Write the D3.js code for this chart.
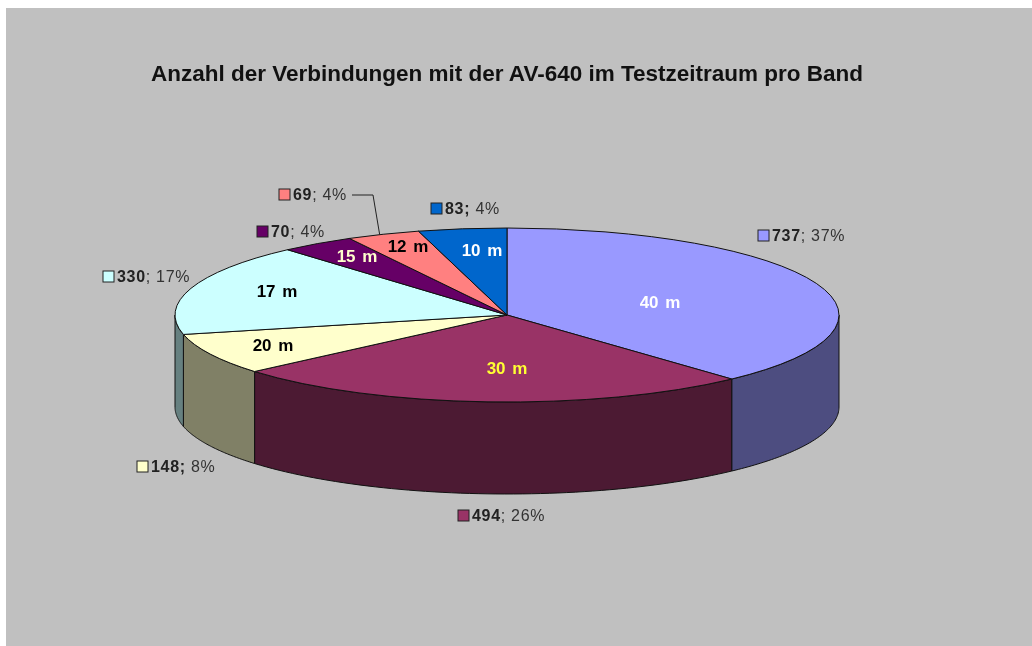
<!DOCTYPE html>
<html>
<head>
<meta charset="utf-8">
<script src="https://cdn.jsdelivr.net/npm/d3@7"></script>
<style>
  html, body { margin: 0; padding: 0; background: #fff; }
  svg { display: block; filter: blur(0.4px); }
  text { font-family: "Liberation Sans", Arial, sans-serif; }
</style>
</head>
<body>
<div id="grafico"></div>
<script>
const bands    = ["40 m", "30 m", "20 m", "17 m", "15 m", "12 m", "10 m"];
const counts   = [737, 494, 148, 330, 70, 69, 83];
const percents = [37, 26, 8, 17, 4, 4, 4];
const topColors  = ["#9999ff", "#993366", "#ffffcc", "#ccffff", "#660066", "#ff8080", "#0066cc"];
const sideColors = ["#4d4d80", "#4c1a33", "#808066", "#668080", "#330033", "#804040", "#003366"];
const bandTextColors = ["#ffffff", "#ffff33", "#000000", "#000000", "#ffffcc", "#000000", "#ffffff"];

const width = 1032, height = 646;
const cx = 507, cy = 315, rx = 332, ry = 87, depth = 92;

// where each outside label starts (swatch left, text middle)
const labelX = [758, 458, 137, 103, 257, 279, 431];
const labelY = [235, 515, 466, 276, 231, 194, 208];
// centre of each band name on the disc
const nameX = [660, 507, 273, 277, 357, 408, 482];
const nameY = [302, 368, 345, 291, 256, 246, 250];

const svg = d3.select("#grafico")
              .append("svg")
              .attr("width", width)
              .attr("height", height);

svg.append("rect")
   .attr("x", 6).attr("y", 8)
   .attr("width", width - 6).attr("height", height - 8)
   .attr("fill", "#c0c0c0");

svg.append("text")
   .attr("x", 507).attr("y", 81)
   .attr("text-anchor", "middle")
   .attr("font-size", 22.5)
   .attr("font-weight", "bold")
   .attr("fill", "#111")
   .text("Anzahl der Verbindungen mit der AV-640 im Testzeitraum pro Band");

const pie = d3.pie().sort(null).value(d => d);
const slices = pie(counts);

const xAt = d3.scaleLinear().domain([-1, 1]).range([cx - rx, cx + rx]);
const yAt = d3.scaleLinear().domain([-1, 1]).range([cy - ry, cy + ry]);
const rimX = a => xAt(Math.sin(a));
const rimY = a => yAt(-Math.cos(a));

const arc = d3.arc().innerRadius(0).outerRadius(rx);

// side walls, only the front half of the disc can be seen
const rimLine = d3.line().x(d => d[0]).y(d => d[1]);
const sides = svg.append("g");
slices.forEach((s, i) => {
    const a0 = Math.max(s.startAngle, Math.PI / 2);
    const a1 = Math.min(s.endAngle, Math.PI * 1.5);
    if (a1 <= a0) return;
    const angles = d3.range(0, 61).map(k => a0 + (a1 - a0) * k / 60);
    const pts = angles.map(a => [rimX(a), rimY(a)])
        .concat(angles.slice().reverse().map(a => [rimX(a), rimY(a) + depth]));
    sides.append("path")
         .attr("d", rimLine(pts) + "Z")
         .attr("fill", sideColors[i])
         .attr("stroke", "#111")
         .attr("stroke-width", 1);
});

svg.append("g")
   .attr("transform", `translate(${cx}, ${cy}) scale(1, ${ry / rx})`)
   .selectAll("path")
   .data(slices)
   .join("path")
   .attr("d", arc)
   .attr("fill", (d, i) => topColors[i])
   .attr("stroke", "#111")
   .attr("stroke-width", 1)
   .attr("vector-effect", "non-scaling-stroke");

// band names on the slices
svg.append("g")
   .selectAll("text")
   .data(bands)
   .join("text")
   .attr("x", (d, i) => nameX[i])
   .attr("y", (d, i) => nameY[i])
   .attr("text-anchor", "middle")
   .attr("dominant-baseline", "central")
   .attr("font-size", 17)
   .attr("font-weight", "bold")
   .attr("word-spacing", 2)
   .attr("fill", (d, i) => bandTextColors[i])
   .text(d => d);

// outside labels: swatch, bold count, percent
const labels = svg.append("g")
   .selectAll("g")
   .data(counts)
   .join("g")
   .attr("transform", (d, i) => `translate(${labelX[i]}, ${labelY[i]})`);

labels.append("rect")
   .attr("x", 0).attr("y", -5)
   .attr("width", 11).attr("height", 11)
   .attr("fill", (d, i) => topColors[i])
   .attr("stroke", "#222");

const labelText = labels.append("text")
   .attr("x", 14)
   .attr("dominant-baseline", "central")
   .attr("font-size", 16)
   .attr("letter-spacing", 0.7)
   .attr("fill", "#222");

labelText.append("tspan")
   .attr("font-weight", "bold")
   .text((d, i) => (i === 2 || i === 6) ? d + ";" : d);
labelText.append("tspan")
   .attr("fill", "#333")
   .text((d, i) => ((i === 2 || i === 6) ? " " : "; ") + percents[i] + "%");

// leader line of the 12 m label
const s12 = slices[5];
const leadA = s12.startAngle + (s12.endAngle - s12.startAngle) * 0.45;
svg.append("path")
   .attr("d", d3.line()([[352, 195], [373, 195], [rimX(leadA), rimY(leadA)]]))
   .attr("fill", "none")
   .attr("stroke", "#222")
   .attr("stroke-width", 1);
</script>
</body>
</html>
